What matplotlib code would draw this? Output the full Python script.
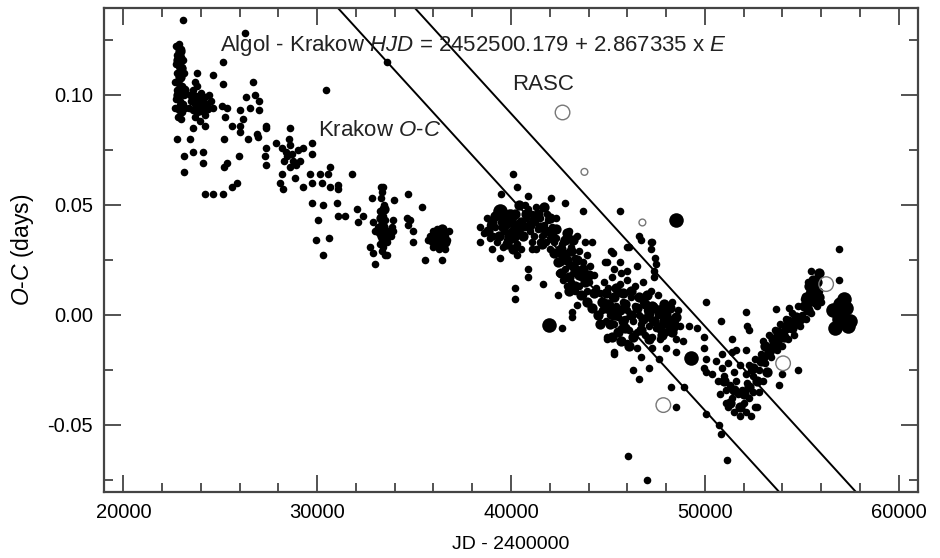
import matplotlib
matplotlib.use("Agg")
import matplotlib.pyplot as plt

plt.rcParams['font.family'] = ['Liberation Sans', 'DejaVu Sans']
plt.rcParams['mathtext.fontset'] = 'custom'
plt.rcParams['mathtext.rm'] = 'Liberation Sans'
plt.rcParams['mathtext.it'] = 'Liberation Sans:italic'
plt.rcParams['axes.unicode_minus'] = False

# Krakow minima, small dots (JD - 2400000, O-C days)
krakow_jd = [
    22700, 22850, 23000, 22750, 22950, 23100, 22700, 22850, 23050, 22750, 22950, 23150, 22650, 22850,
    23050, 22750, 22950, 23150, 22700, 22900, 23100, 22650, 22850, 23050, 23200, 22800, 23000, 23100,
    23450, 23600, 23800, 24000, 24200, 24400, 23500, 23700, 23900, 24100, 24300, 24500, 23600, 23800,
    24000, 24200, 23700, 23950, 24220, 23600, 23810, 24630, 23700, 24600, 23400,
    22780, 23450, 23140, 23600, 24120, 24120, 23140, 24220, 24630, 25150, 25610, 25870, 25200, 25360,
    25970, 25200,
    25150, 25150, 25100, 25360, 25250, 25610, 26030, 26180, 26030, 26330, 26700, 26800, 26540, 27000,
    27000, 26030, 26440, 26950, 27360, 26280,
    27360, 28600, 26900, 27360, 27360, 27310, 27880, 28190, 28550, 28600, 29270, 29730, 29730, 28450,
    28760, 29120, 28600, 28190, 28860, 28090, 28240, 29270, 29630, 29730, 30150, 30660, 30560, 30250,
    30660, 31070, 31070, 31800, 29730, 30300, 31020, 30040, 31070, 31430, 29940, 30610, 30300, 32050,
    32360, 32100, 30450, 28400, 28700, 28900, 28300, 29000,
    33300, 33400, 33350, 33300, 33450, 33250, 33400, 33500, 33300, 33450, 33200, 33500, 33350, 33600,
    33150, 33700, 33800, 33850, 33000, 33400, 33350, 33500, 32900, 33600, 33250,
    32820, 33960, 34680, 35400, 34630, 34680, 34940, 34940, 33900, 33900, 32720, 32880, 32980, 33600,
    35550, 36430, 34780, 33600,
    35800, 36000, 36200, 36400, 36600, 35900, 36100, 36300, 36500, 36700, 36000, 36300, 36600, 36200,
    36800, 35700, 36400, 36100,
    38390, 38390, 38750, 38600, 38900, 39060, 39200, 39420, 40290, 39570, 39800, 40000, 40200, 40450,
    40700, 41060, 41060, 41480, 41840, 42150, 42610, 40190, 40190, 40860, 40860, 41630, 42610, 40090,
    40290, 39470, 40860, 42090, 42810, 43690, 45600,
    40700, 40900, 41100, 41300, 41500, 41700, 41900, 42100, 42300, 40800, 41000, 41200, 41400, 41600,
    41800, 42000, 42200, 42400, 41100, 41300, 40500, 40300, 39500, 39700, 38900, 39000, 39300,
    42300, 42500, 42700, 42900, 43100, 43300, 43500, 43700, 43900, 44100, 42600, 42800, 43000, 43200,
    43400, 43600, 43800, 44000, 42700, 42900, 43100, 43300, 43500, 43700, 43900, 44200, 44870, 45340,
    45180, 46110, 42400, 43170, 43170, 43430, 44930, 45290, 43000, 43400, 43800, 44300, 44400, 42500,
    44600, 44800, 45000, 45200, 45400, 45600, 45800, 46000, 46200, 46400, 46600, 46800, 47000, 47200,
    47400, 47600, 47800, 48000, 48200, 44700, 44900, 45100, 45300, 45500, 45700, 45900, 46100, 46300,
    46500, 46700, 46900, 47100, 47300, 47500, 47700, 48000, 44800, 45200, 45600, 46000, 46400, 46800,
    47200, 47600, 48300, 48600, 48700,
    46600, 46730, 47240, 47240, 47450, 47500, 47400, 47400, 45240, 44930, 45600, 46010, 46000, 46500,
    45700, 47300,
    50080, 52140, 52190, 50850, 49610, 49970, 49970, 50080, 49970, 50390, 48530, 48530, 48270, 48940,
    48530, 50080, 50750, 50850, 46060, 51160, 47040, 50080,
    44930, 45290, 46730, 46270, 46630, 47140, 47660, 48000, 47300, 46000, 46500, 48900, 49200,
    50600, 50900, 51200, 51500, 51800, 52100, 52400, 50700, 51000, 51300, 51600, 51900, 52200, 52500,
    50800, 51100, 51400, 51700, 52000, 52300, 52600, 51200, 51500, 51800, 52100, 52400, 52700, 51100,
    52800, 53000, 50900, 51400,
    52300, 52600, 52900, 53200, 53500, 53800, 54100, 54400, 54700, 55000, 55300, 55600, 55900, 52500,
    52800, 53100, 53400, 53700, 54000, 54300, 54600, 54900, 55200, 55500, 55800, 53000, 53300, 53600,
    53900, 54200, 54500, 54800, 55100, 55400, 55700, 55480, 56930, 56930, 53680, 54810, 55300, 56000,
    54350, 54000, 53840, 51420, 51620, 52140, 52290,
]
krakow_oc = [
    0.122, 0.123, 0.121, 0.118, 0.117, 0.116, 0.114, 0.113, 0.112, 0.110, 0.109, 0.110, 0.106, 0.105,
    0.104, 0.102, 0.101, 0.100, 0.098, 0.097, 0.096, 0.094, 0.093, 0.092, 0.094, 0.090, 0.089, 0.134,
    0.100, 0.102, 0.104, 0.101, 0.099, 0.100, 0.097, 0.096, 0.098, 0.095, 0.096, 0.097, 0.093, 0.092,
    0.093, 0.091, 0.090, 0.088, 0.086, 0.085, 0.110, 0.109, 0.106, 0.094, 0.094,
    0.080, 0.080, 0.072, 0.074, 0.074, 0.069, 0.065, 0.055, 0.055, 0.055, 0.058, 0.060, 0.067, 0.069,
    0.072, 0.080,
    0.115, 0.105, 0.095, 0.094, 0.090, 0.086, 0.086, 0.089, 0.093, 0.099, 0.106, 0.100, 0.094, 0.097,
    0.093, 0.083, 0.080, 0.081, 0.085, 0.128,
    0.086, 0.085, 0.082, 0.076, 0.068, 0.072, 0.078, 0.076, 0.080, 0.077, 0.076, 0.078, 0.073, 0.072,
    0.070, 0.070, 0.067, 0.064, 0.062, 0.060, 0.057, 0.058, 0.064, 0.060, 0.064, 0.067, 0.064, 0.060,
    0.058, 0.059, 0.057, 0.064, 0.051, 0.050, 0.051, 0.043, 0.045, 0.045, 0.034, 0.035, 0.027, 0.048,
    0.045, 0.042, 0.102, 0.074, 0.073, 0.068, 0.070, 0.075,
    0.058, 0.058, 0.056, 0.053, 0.050, 0.047, 0.045, 0.043, 0.041, 0.039, 0.037, 0.036, 0.034, 0.035,
    0.040, 0.038, 0.036, 0.040, 0.038, 0.031, 0.029, 0.027, 0.042, 0.033, 0.032,
    0.053, 0.052, 0.055, 0.049, 0.044, 0.041, 0.038, 0.033, 0.043, 0.038, 0.031, 0.028, 0.023, 0.027,
    0.025, 0.025, 0.043, 0.115,
    0.036, 0.038, 0.039, 0.037, 0.036, 0.033, 0.034, 0.033, 0.032, 0.034, 0.031, 0.030, 0.030, 0.036,
    0.038, 0.034, 0.035, 0.037,
    0.040, 0.033, 0.044, 0.037, 0.035, 0.036, 0.040, 0.026, 0.027, 0.031, 0.034, 0.038, 0.035, 0.037,
    0.040, 0.042, 0.030, 0.033, 0.046, 0.037, 0.032, 0.012, 0.007, 0.021, 0.017, 0.014, -0.006, 0.064,
    0.058, 0.055, 0.054, 0.053, 0.051, 0.047, 0.047,
    0.050, 0.048, 0.046, 0.049, 0.044, 0.041, 0.043, 0.040, 0.044, 0.044, 0.038, 0.036, 0.039, 0.036,
    0.033, 0.030, 0.033, 0.028, 0.033, 0.030, 0.030, 0.032, 0.042, 0.038, 0.041, 0.030, 0.033,
    0.035, 0.030, 0.033, 0.028, 0.031, 0.026, 0.029, 0.024, 0.027, 0.022, 0.024, 0.021, 0.023, 0.019,
    0.021, 0.017, 0.019, 0.015, 0.016, 0.013, 0.015, 0.011, 0.013, 0.009, 0.011, 0.033, 0.024, 0.021,
    0.029, 0.031, 0.009, 0.0014, -0.001, 0.0045, -0.011, -0.017, 0.038, 0.036, 0.033, 0.018, 0.012, 0.019,
    0.010, 0.006, 0.012, 0.008, 0.004, 0.010, 0.006, 0.002, 0.008, 0.004, 0.000, 0.006, 0.002, -0.002,
    0.004, 0.000, -0.004, 0.002, -0.002, 0.002, -0.003, 0.000, -0.004, -0.001, -0.006, -0.002, -0.007,
    -0.003, -0.008, -0.004, -0.009, -0.005, -0.010, -0.006, -0.011, -0.008, 0.015, 0.017, 0.014, 0.016,
    0.013, 0.015, 0.011, 0.009, 0.006, 0.002, -0.005,
    0.036, 0.034, 0.033, 0.030, 0.026, 0.023, 0.020, 0.017, 0.028, 0.024, 0.024, 0.031, 0.020, 0.022,
    0.019, 0.033,
    0.006, 0.0014, -0.005, -0.003, -0.006, -0.010, -0.015, -0.020, -0.024, -0.027, -0.011, -0.017,
    -0.033, -0.033, -0.042, -0.045, -0.050, -0.054, -0.064, -0.066, -0.075, -0.026,
    -0.010, -0.018, -0.019, -0.025, -0.029, -0.024, -0.020, -0.015, -0.015, -0.013, -0.015, -0.012,
    -0.005,
    -0.021, -0.024, -0.022, -0.026, -0.023, -0.027, -0.025, -0.030, -0.028, -0.032, -0.030, -0.034,
    -0.031, -0.035, -0.036, -0.034, -0.038, -0.036, -0.040, -0.038, -0.042, -0.042, -0.044, -0.046,
    -0.044, -0.046, -0.042, -0.040, -0.035, -0.030, -0.018, -0.017,
    -0.023, -0.020, -0.018, -0.015, -0.013, -0.011, -0.008, -0.005, -0.003, 0.000, 0.003, 0.007, 0.011,
    -0.028, -0.025, -0.022, -0.019, -0.016, -0.014, -0.011, -0.009, -0.005, -0.002, 0.001, 0.004,
    -0.012, -0.009, -0.007, -0.004, -0.002, 0.001, 0.004, 0.007, 0.010, 0.013, 0.020, 0.030, 0.016,
    0.0027, -0.025, 0.015, 0.006, 0.003, -0.027, -0.032, -0.011, -0.016, -0.016, -0.007,
]

# Krakow minima, medium-weight dots (the dense clumps)
mid_jd = [
    53900, 54600, 55300, 55600, 55900, 45800, 47700,
    39200, 39600, 39900, 40200, 40500, 39400, 39800, 40100, 40600, 38800, 39000,
    41200, 41500, 41800, 42100, 41400, 41700, 42000, 42300, 41600, 42200,
    42600, 42900, 43200, 43500, 43800, 42800, 43100, 43400, 43700, 44000, 43000, 43300, 43600, 44300, 42700,
    44700, 45000, 45300, 45600, 45900, 46200, 46500, 46800, 47100, 47400, 47700, 45100, 45500, 45900,
    46300, 46700, 47100, 45400, 45800, 46200, 46600, 47000, 44900, 48200, 48500, 47900,
    52500, 52900, 53300, 53700, 54100, 54500, 54900, 55300, 55700, 53100, 53500, 54300, 55100, 55500,
    55800, 55400,
    22800, 22900, 22800, 23000, 23000, 22900, 23150, 23700, 24000, 24300, 23900,
    51000, 51500, 52000, 51300, 51800, 52300,
    36000, 36300, 36600, 36150, 36450, 33400, 33350, 33450, 33300,
    43900, 44200, 44500, 44600, 45200, 45700, 46100, 46900, 47300, 47600, 48000, 47800, 48300, 42400,
    42600, 43000, 42900, 43200, 40800, 41000, 40400,
    53000, 53400, 53800, 54200, 54700, 55200, 55600, 55900, 52700, 53200,
]
mid_oc = [
    -0.010, -0.004, 0.006, 0.010, 0.008, -0.003, 0.002,
    0.045, 0.040, 0.043, 0.046, 0.042, 0.036, 0.032, 0.030, 0.036, 0.038, 0.042,
    0.043, 0.040, 0.038, 0.035, 0.046, 0.049, 0.044, 0.039, 0.032, 0.028,
    0.030, 0.025, 0.022, 0.018, 0.015, 0.034, 0.029, 0.025, 0.021, 0.018, 0.017, 0.013, 0.009, 0.010, 0.026,
    0.006, 0.004, 0.008, 0.002, 0.005, 0.000, 0.003, -0.002, 0.001, -0.003, -0.006, -0.004, -0.008, -0.006,
    -0.010, -0.007, -0.011, 0.012, 0.010, 0.011, 0.008, 0.009, 0.010, 0.003, -0.001, 0.005,
    -0.024, -0.021, -0.017, -0.013, -0.010, -0.006, -0.002, 0.002, 0.006, -0.014, -0.011, -0.003, 0.004,
    0.011, 0.015, 0.013,
    0.116, 0.108, 0.100, 0.095, 0.112, 0.120, 0.102, 0.099, 0.097, 0.094, 0.093,
    -0.030, -0.034, -0.036, -0.040, -0.042, -0.033,
    0.035, 0.036, 0.033, 0.032, 0.039, 0.040, 0.036, 0.048, 0.044,
    0.006, 0.003, 0.000, -0.004, -0.010, -0.012, -0.014, 0.005, 0.004, 0.002, 0.000, -0.009, -0.008, 0.024,
    0.019, 0.011, 0.037, 0.034, 0.046, 0.041, 0.050,
    -0.019, -0.015, -0.008, -0.006, -0.001, 0.008, 0.016, 0.019, -0.030, -0.026,
]

# Krakow minima, heavy dots
big_jd = [39420, 39930, 39700, 40300, 40000, 41940, 48530, 48330, 49300, 44930, 45300, 48000,
          56600, 57000, 57300, 56900, 57400, 56700, 57100, 57500, 57200]
big_oc = [0.047, 0.045, 0.042, 0.040, 0.036, -0.0045, 0.043, -0.0045, -0.0195, 0.004, 0.001, -0.003,
          0.002, 0.005, 0.003, -0.002, -0.005, -0.006, -0.001, -0.003, 0.007]

# RASC minima (open circles)
rasc_big_jd = [42660, 47860, 54040, 56260]
rasc_big_oc = [0.092, -0.041, -0.022, 0.014]
rasc_small_jd = [43790, 46780]
rasc_small_oc = [0.065, 0.042]

# the two parallel ephemeris lines
krakow_line_jd = [31070, 53840]
rasc_line_jd = [35040, 57800]
line_oc = [0.1395, -0.0805]

fig = plt.figure(figsize=(9.4, 5.58), dpi=100)
ax = fig.add_axes([0.1106, 0.1183, 0.866, 0.8674])

ax.plot(krakow_line_jd, line_oc, color='black', lw=1.4)
ax.plot(rasc_line_jd, line_oc, color='black', lw=1.4)

ax.scatter(krakow_jd, krakow_oc, s=30, color='black', linewidths=0)
ax.scatter(mid_jd, mid_oc, s=55, color='black', linewidths=0)
ax.scatter(big_jd, big_oc, s=110, color='black', linewidths=0)
ax.scatter(rasc_big_jd, rasc_big_oc, s=110, facecolors='none', edgecolors='#777777', linewidths=1.0)
ax.scatter(rasc_small_jd, rasc_small_oc, s=24, facecolors='none', edgecolors='#777777', linewidths=1.0)

ax.set_xlim(19000, 61000)
ax.set_ylim(-0.0805, 0.1395)
ax.set_xticks([20000, 30000, 40000, 50000, 60000])
ax.set_xticks(range(20000, 61000, 2000), minor=True)
ax.set_yticks([-0.05, 0.0, 0.05, 0.10])
ax.set_yticks([-0.075, -0.025, 0.025, 0.075, 0.125], minor=True)
ax.set_yticklabels(['-0.05', '0.00', '0.05', '0.10'])

ax.tick_params(which='both', direction='in', top=True, right=True, color='#444444', width=1.3,
               labelsize=14.5)
ax.tick_params(which='major', length=12, pad=8)
ax.tick_params(which='minor', length=6.5)
for sp in ax.spines.values():
    sp.set_color('#444444')
    sp.set_linewidth(1.6)

ax.set_xlabel('JD - 2400000', fontsize=14, labelpad=10)
ax.set_ylabel('$\\mathit{O}$-$\\mathit{C}$ (days)', fontsize=16.5, labelpad=8)

ax.text(25000, 0.1225, 'Algol - Krakow $\\mathit{HJD}$ = 2452500.179 + 2.867335 x $\\mathit{E}$',
        fontsize=16, ha='left', va='center', color='#222222')
ax.text(41630, 0.1045, 'RASC', fontsize=16, ha='center', va='center', color='#222222')
ax.text(30040, 0.084, 'Krakow $\\mathit{O}$-$\\mathit{C}$', fontsize=16, ha='left', va='center',
        color='#222222')

fig.savefig('out.png', dpi=100)
